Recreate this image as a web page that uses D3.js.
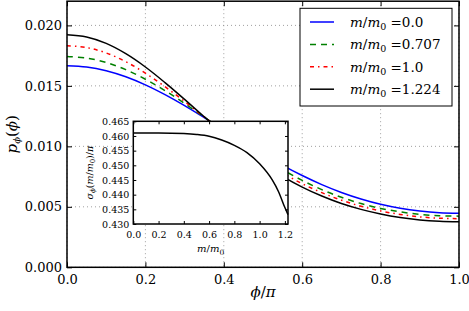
<!DOCTYPE html>
<html>
<head lang="en">
    <meta charset="UTF-8">
    <title>p_phi inset chart</title>
    <script type="text/javascript" src="https://cdn.jsdelivr.net/npm/d3@7/dist/d3.min.js"></script>
    <style>
        body { margin: 0; background: #fff; }
        svg text { font-family: "DejaVu Serif", serif; }
    </style>
</head>
<body>
<svg width="469" height="311"></svg>

<script>
    // phi / pi sample points
    var phi = [0, 0.05, 0.1, 0.15, 0.2, 0.25, 0.3, 0.35, 0.4, 0.45, 0.5,
        0.55, 0.6, 0.65, 0.7, 0.75, 0.8, 0.85, 0.9, 0.95, 1.0];

    // p_phi(phi) for each m/m0
    var p00 = [0.01667, 0.01656, 0.01625, 0.01575, 0.01508, 0.01427, 0.01336, 0.01237, 0.01136, 0.01034, 0.00936,
        0.00843, 0.00759, 0.00684, 0.00619, 0.00565, 0.00521, 0.00488, 0.00465, 0.00451, 0.00447];
    var p0707 = [0.01743, 0.01730, 0.01693, 0.01634, 0.01555, 0.01461, 0.01355, 0.01242, 0.01126, 0.01013, 0.00906,
        0.00807, 0.00719, 0.00642, 0.00579, 0.00527, 0.00487, 0.00458, 0.00438, 0.00426, 0.00423];
    var p10 = [0.01832, 0.01817, 0.01772, 0.01700, 0.01605, 0.01493, 0.01371, 0.01243, 0.01116, 0.00994, 0.00881,
        0.00780, 0.00691, 0.00617, 0.00555, 0.00505, 0.00466, 0.00437, 0.00417, 0.00406, 0.00402];
    var p1224 = [0.01922, 0.01904, 0.01851, 0.01766, 0.01656, 0.01527, 0.01388, 0.01245, 0.01106, 0.00975, 0.00857,
        0.00752, 0.00663, 0.00589, 0.00527, 0.00479, 0.00441, 0.00412, 0.00392, 0.00381, 0.00377];

    var seriesNames = ["0.0", "0.707", "1.0", "1.224"];
    var seriesValues = [p00, p0707, p10, p1224];
    var seriesColors = ["#0000ff", "#008000", "#ff0000", "#000000"];
    var seriesDash = [null, "6,5", "4,4,1.5,4", null];

    // inset: sigma_phi(m/m0)/pi
    var mRatio = [0, 0.2, 0.4, 0.5, 0.6, 0.7, 0.8, 0.9, 1.0, 1.1, 1.15, 1.2, 1.2247];
    var sigma = [0.4610, 0.4610, 0.4608, 0.4605, 0.4599, 0.4586, 0.4568, 0.4543, 0.4505, 0.4450, 0.4410, 0.4356, 0.4332];

    var xTicks = [0, 0.2, 0.4, 0.6, 0.8, 1.0];
    var yTicks = [0, 0.005, 0.010, 0.015, 0.020];
    var insetXTicks = [0, 0.2, 0.4, 0.6, 0.8, 1.0, 1.2];
    var insetYTicks = [0.430, 0.435, 0.440, 0.445, 0.450, 0.455, 0.460, 0.465];

    var svg = d3.select("svg");

    // main axes box
    var L = 67, R = 459, T = 1.2, B = 267.3;
    var x = d3.scaleLinear().domain([0, 1]).range([L, R]);
    var y = d3.scaleLinear().domain([0, 0.022]).range([B, T]);

    // grid
    var grid = svg.append("g").attr("stroke", "#888").attr("stroke-width", 0.8).attr("stroke-dasharray", "1,3");
    grid.selectAll(".gx").data(xTicks).enter().append("line")
        .attr("x1", function (d) { return x(d); }).attr("x2", function (d) { return x(d); })
        .attr("y1", T).attr("y2", B);
    grid.selectAll(".gy").data(yTicks).enter().append("line")
        .attr("y1", function (d) { return y(d); }).attr("y2", function (d) { return y(d); })
        .attr("x1", L).attr("x2", R);

    // curves
    var line = d3.line()
        .x(function (d, i) { return x(phi[i]); })
        .y(function (d) { return y(d); })
        .curve(d3.curveCatmullRom);

    svg.append("g").selectAll("path").data(seriesValues).enter().append("path")
        .attr("d", line)
        .attr("fill", "none")
        .attr("stroke", function (d, i) { return seriesColors[i]; })
        .attr("stroke-width", 1.5)
        .attr("stroke-dasharray", function (d, i) { return seriesDash[i]; });

    // axes with inward ticks
    var fmt1 = d3.format(".1f"), fmt3 = d3.format(".3f");
    function styleAxis(g, size) {
        g.attr("font-family", null).attr("font-size", size);
        g.select(".domain").remove();
        g.selectAll("line").attr("stroke", "#000").attr("stroke-width", 1);
        g.selectAll("text").attr("fill", "#000");
    }
    svg.append("g").attr("transform", "translate(0," + B + ")")
        .call(d3.axisBottom(x).tickValues(xTicks).tickFormat(fmt1).tickSize(-5).tickPadding(7))
        .call(styleAxis, 13);
    svg.append("g").attr("transform", "translate(0," + T + ")")
        .call(d3.axisTop(x).tickValues(xTicks).tickFormat("").tickSize(-5))
        .call(styleAxis, 13);
    svg.append("g").attr("transform", "translate(" + L + ",0)")
        .call(d3.axisLeft(y).tickValues(yTicks).tickFormat(fmt3).tickSize(-5).tickPadding(5))
        .call(styleAxis, 13);
    svg.append("g").attr("transform", "translate(" + R + ",0)")
        .call(d3.axisRight(y).tickValues(yTicks).tickFormat("").tickSize(-5))
        .call(styleAxis, 13);

    svg.append("rect").attr("x", L).attr("y", T).attr("width", R - L).attr("height", B - T)
        .attr("fill", "none").attr("stroke", "#000").attr("stroke-width", 1.5);

    // axis labels
    var xl = svg.append("text").attr("x", (L + R) / 2).attr("y", 297).attr("text-anchor", "middle")
        .attr("font-size", 15);
    xl.append("tspan").attr("font-style", "italic").text("ϕ");
    xl.append("tspan").text("/");
    xl.append("tspan").attr("font-style", "italic").text("π");

    var yl = svg.append("text").attr("transform", "translate(17," + ((T + B) / 2) + ") rotate(-90)")
        .attr("text-anchor", "middle").attr("font-size", 15);
    yl.append("tspan").attr("font-style", "italic").text("p");
    yl.append("tspan").attr("font-style", "italic").attr("font-size", 10).attr("dy", 3).text("ϕ");
    yl.append("tspan").attr("dy", -3).text("(");
    yl.append("tspan").attr("font-style", "italic").text("ϕ");
    yl.append("tspan").text(")");

    // legend
    var lg = svg.append("g");
    lg.append("rect").attr("x", 300).attr("y", 8.3).attr("width", 152).attr("height", 97.7)
        .attr("fill", "#fff").attr("stroke", "#000").attr("stroke-width", 1);
    var rows = lg.selectAll(".row").data(seriesNames).enter().append("g")
        .attr("transform", function (d, i) { return "translate(0," + (22 + i * 22.4) + ")"; });
    rows.append("line").attr("x1", 310).attr("x2", 334).attr("y1", 0).attr("y2", 0)
        .attr("stroke", function (d, i) { return seriesColors[i]; })
        .attr("stroke-width", 1.5)
        .attr("stroke-dasharray", function (d, i) { return seriesDash[i]; });
    var lt = rows.append("text").attr("x", 350).attr("y", 4.7).attr("font-size", 13.5);
    lt.append("tspan").attr("font-style", "italic").text("m");
    lt.append("tspan").text("/");
    lt.append("tspan").attr("font-style", "italic").text("m");
    lt.append("tspan").attr("dy", 3).attr("font-size", 9.5).text("0");
    lt.append("tspan").attr("dy", -3).text(function (d) { return " =" + d; });

    // inset
    var iL = 133.3, iR = 288, iT = 121.3, iB = 224;
    var ix = d3.scaleLinear().domain([0, 1.2247]).range([iL, iR]);
    var iy = d3.scaleLinear().domain([0.430, 0.465]).range([iB, iT]);
    var inset = svg.append("g");
    inset.append("rect").attr("x", iL).attr("y", iT).attr("width", iR - iL).attr("height", iB - iT)
        .attr("fill", "#fff");
    inset.append("path")
        .datum(sigma)
        .attr("d", d3.line()
            .x(function (d, i) { return ix(mRatio[i]); })
            .y(function (d) { return iy(d); })
            .curve(d3.curveMonotoneX))
        .attr("fill", "none").attr("stroke", "#000").attr("stroke-width", 1.5);

    inset.append("g").attr("transform", "translate(0," + iB + ")")
        .call(d3.axisBottom(ix).tickValues(insetXTicks).tickFormat(fmt1).tickSize(-3).tickPadding(7))
        .call(styleAxis, 9.5);
    inset.append("g").attr("transform", "translate(0," + iT + ")")
        .call(d3.axisTop(ix).tickValues(insetXTicks).tickFormat("").tickSize(-3))
        .call(styleAxis, 9.5);
    inset.append("g").attr("transform", "translate(" + iL + ",0)")
        .call(d3.axisLeft(iy).tickValues(insetYTicks).tickFormat(fmt3).tickSize(-3).tickPadding(4))
        .call(styleAxis, 9.5);
    inset.append("g").attr("transform", "translate(" + iR + ",0)")
        .call(d3.axisRight(iy).tickValues(insetYTicks).tickFormat("").tickSize(-3))
        .call(styleAxis, 9.5);
    inset.append("rect").attr("x", iL).attr("y", iT).attr("width", iR - iL).attr("height", iB - iT)
        .attr("fill", "none").attr("stroke", "#000").attr("stroke-width", 1.5);

    var ixl = inset.append("text").attr("x", (iL + iR) / 2).attr("y", 252).attr("text-anchor", "middle")
        .attr("font-size", 10);
    ixl.append("tspan").attr("font-style", "italic").text("m");
    ixl.append("tspan").text("/");
    ixl.append("tspan").attr("font-style", "italic").text("m");
    ixl.append("tspan").attr("dy", 2.5).attr("font-size", 7.5).text("0");

    var iyl = inset.append("text").attr("transform", "translate(93," + ((iT + iB) / 2) + ") rotate(-90)")
        .attr("text-anchor", "middle").attr("font-size", 9.5);
    iyl.append("tspan").attr("font-style", "italic").text("σ");
    iyl.append("tspan").attr("font-style", "italic").attr("font-size", 7).attr("dy", 2).text("ϕ");
    iyl.append("tspan").attr("dy", -2).text("(");
    iyl.append("tspan").attr("font-style", "italic").text("m");
    iyl.append("tspan").text("/");
    iyl.append("tspan").attr("font-style", "italic").text("m");
    iyl.append("tspan").attr("font-size", 7).attr("dy", 2).text("0");
    iyl.append("tspan").attr("dy", -2).text(")/");
    iyl.append("tspan").attr("font-style", "italic").text("π");
</script>
</body>
</html>
